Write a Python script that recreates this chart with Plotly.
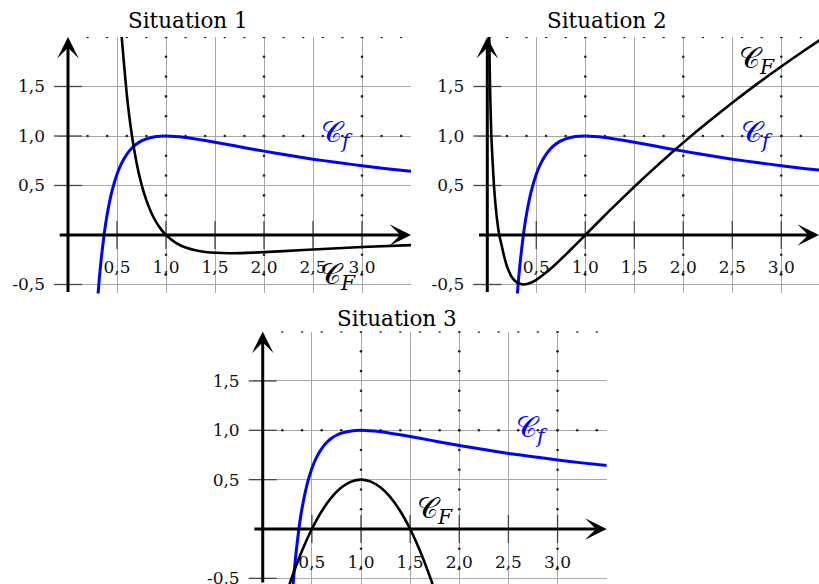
import plotly.graph_objects as go

W, H = 819, 584

# courbe C_f (identique dans les trois situations)
f_x = [0.29, 0.30, 0.32, 0.34, 0.37, 0.40, 0.45, 0.50, 0.55, 0.60, 0.65, 0.70, 0.75, 0.80, 0.90,
       1.00, 1.20, 1.40, 1.60, 1.80, 2.00, 2.25, 2.50, 2.75, 3.00, 3.25, 3.50]
f_y = [-0.821, -0.680, -0.434, -0.233, 0.016, 0.209, 0.447, 0.614, 0.731, 0.815, 0.876, 0.919,
       0.950, 0.971, 0.994, 1.000, 0.985, 0.954, 0.919, 0.882, 0.847, 0.805, 0.766, 0.732, 0.700,
       0.670, 0.644]

# courbe C_F, situation 1
s1_x = [0.52, 0.55, 0.60, 0.65, 0.70, 0.75, 0.80, 0.85, 0.90, 0.95, 1.00, 1.10, 1.20, 1.30,
        1.40, 1.65, 1.90, 2.20, 2.60, 3.00, 3.50]
s1_y = [2.420, 1.976, 1.419, 1.020, 0.728, 0.511, 0.349, 0.225, 0.130, 0.057, 0.000, -0.079,
        -0.127, -0.155, -0.172, -0.184, -0.178, -0.163, -0.141, -0.122, -0.102]

# courbe C_F, situation 2
s2_x = [0.015, 0.028, 0.041, 0.068, 0.10, 0.122, 0.15, 0.173, 0.20, 0.25, 0.30, 0.37, 0.45, 0.50,
        0.60, 0.70, 0.80, 0.90, 1.00, 1.25, 1.50, 1.75, 2.00, 2.25, 2.50, 2.75, 3.00, 3.25, 3.40]
s2_y = [2.30, 1.50, 1.00, 0.50, 0.15, 0.00, -0.12, -0.22, -0.314, -0.425, -0.479, -0.500, -0.480,
        -0.453, -0.380, -0.293, -0.198, -0.100, 0.000, 0.248, 0.487, 0.716, 0.933, 1.140, 1.336,
        1.524, 1.702, 1.874, 1.973]

# courbe C_F, situation 3
s3_x = [0.25, 0.30, 0.40, 0.50, 0.60, 0.70, 0.80, 0.90, 1.00, 1.10, 1.20, 1.30, 1.40, 1.50,
        1.60, 1.70, 1.75]
s3_y = [-0.625, -0.480, -0.220, 0.000, 0.180, 0.320, 0.420, 0.480, 0.500, 0.480, 0.420, 0.320,
        0.180, 0.000, -0.220, -0.480, -0.625]

x_ticks = [0.5, 1.0, 1.5, 2.0, 2.5, 3.0]
x_labels = ["0,5", "1,0", "1,5", "2,0", "2,5", "3,0"]
y_ticks = [-0.5, 0.5, 1.0, 1.5]
y_labels = ["-0,5", "0,5", "1,0", "1,5"]

SERIF = "DejaVu Serif"
GRID = "#a8a8a8"


def px(x):
    return x / W


def py(y):
    return (H - y) / H


# (titre, courbe F, plage x, plage y, domaine x, domaine y, pos. axe y, pos. axe x, titre xy, Cf xy, CF xy)
panels = [
    ("Situation 1", (s1_x, s1_y), [-0.1, 3.5], [-0.59, 2.0], [58.2, 411], [293.4, 37], 68, 234,
     (188, 20), (337, 134), (338, 276)),
    ("Situation 2", (s2_x, s2_y), [-0.1, 3.385], [-0.59, 2.0], [477.5, 819], [293.4, 37], 487.3, 234,
     (607, 20), (757, 134), (757, 60)),
    ("Situation 3", (s3_x, s3_y), [-0.1, 3.5], [-0.557, 2.0], [252.9, 606.7], [584, 331.6], 262.7, 529,
     (397, 318), (532, 429), (435, 510)),
]

fig = go.Figure()
annotations = []
layout = {}

for i, (title, (cx, cy), xr, yr, dx, dy, yax_px, xax_px, tpos, cfpos, cFpos) in enumerate(panels, start=1):
    xa = "x" if i == 1 else f"x{i}"
    ya = "y" if i == 1 else f"y{i}"
    grid_x = x_ticks + [3.5]
    grid_y = y_ticks + [2.0]

    layout[f"xaxis{'' if i == 1 else i}"] = dict(
        domain=[px(dx[0]), px(dx[1])], range=xr, anchor="free", position=py(xax_px),
        tickmode="array", tickvals=grid_x, ticktext=x_labels + [" "], ticks="",
        showgrid=True, gridcolor=GRID, gridwidth=1.2, zeroline=False, showline=False,
        tickfont=dict(family=SERIF, size=17, color="#111"), ticklabelstandoff=21,
        ticklabeloverflow="allow", automargin=False, fixedrange=True,
    )
    layout[f"yaxis{'' if i == 1 else i}"] = dict(
        domain=[py(dy[0]), py(dy[1])], range=yr, anchor="free", position=px(yax_px),
        tickmode="array", tickvals=grid_y, ticktext=y_labels + [" "], ticks="",
        showgrid=True, gridcolor=GRID, gridwidth=1.2, zeroline=False, showline=False,
        tickfont=dict(family=SERIF, size=17, color="#111"), ticklabelstandoff=23,
        ticklabeloverflow="allow", automargin=False, fixedrange=True,
    )

    # petits points sur les lignes entières du quadrillage
    dots_x, dots_y = [], []
    for g in [1, 2, 3]:
        if g <= xr[1]:
            k = 0
            while -0.4 + 0.2 * k <= 2.0 + 1e-9:
                v = round(-0.4 + 0.2 * k, 1)
                if yr[0] <= v <= 2.0:
                    dots_x.append(g)
                    dots_y.append(v)
                k += 1
    for g in [1.0, 2.0]:
        k = 1
        while 0.2 * k <= xr[1] + 1e-9:
            dots_x.append(round(0.2 * k, 1))
            dots_y.append(g)
            k += 1
    fig.add_trace(go.Scatter(x=dots_x, y=dots_y, xaxis=xa, yaxis=ya, mode="markers",
                             marker=dict(size=2.6, color="#222"), hoverinfo="skip"))

    # graduations des axes
    fig.add_trace(go.Scatter(x=x_ticks, y=[0] * len(x_ticks), xaxis=xa, yaxis=ya, mode="markers",
                             marker=dict(symbol="line-ns", size=20, line=dict(width=1.3, color="#444")),
                             hoverinfo="skip"))
    fig.add_trace(go.Scatter(x=[0] * len(y_ticks), y=y_ticks, xaxis=xa, yaxis=ya, mode="markers",
                             marker=dict(symbol="line-ew", size=20, line=dict(width=1.3, color="#444")),
                             hoverinfo="skip", cliponaxis=False))

    # courbes
    fig.add_trace(go.Scatter(x=f_x, y=f_y, xaxis=xa, yaxis=ya, mode="lines",
                             line=dict(color="#0000ff", width=3, shape="spline", smoothing=0.5)))
    fig.add_trace(go.Scatter(x=cx, y=cy, xaxis=xa, yaxis=ya, mode="lines",
                             line=dict(color="black", width=2.6, shape="spline", smoothing=0.5)))

    # axes fléchés
    annotations.append(dict(x=xr[1], y=0, ax=xr[0], ay=0, xref=xa, yref=ya, axref=xa, ayref=ya,
                            text="", showarrow=True, arrowhead=3, arrowsize=1.2, arrowwidth=3,
                            arrowcolor="black"))
    annotations.append(dict(x=0, y=2.0, ax=0, ay=yr[0], xref=xa, yref=ya, axref=xa, ayref=ya,
                            text="", showarrow=True, arrowhead=3, arrowsize=1.2, arrowwidth=3,
                            arrowcolor="black"))

    annotations.append(dict(x=px(tpos[0]), y=py(tpos[1]), xref="paper", yref="paper", text=title,
                            showarrow=False, xanchor="center", yanchor="middle",
                            font=dict(family=SERIF, size=21.5, color="black")))
    annotations.append(dict(x=px(cfpos[0]), y=py(cfpos[1]), xref="paper", yref="paper",
                            text="𝒞<sub><i>f</i></sub>", showarrow=False, xanchor="center",
                            yanchor="middle", font=dict(family=SERIF, size=29, color="#0000ff")))
    annotations.append(dict(x=px(cFpos[0]), y=py(cFpos[1]), xref="paper", yref="paper",
                            text="𝒞<sub><i>F</i></sub>", showarrow=False, xanchor="center",
                            yanchor="middle", font=dict(family=SERIF, size=29, color="black")))

fig.update_layout(
    width=W, height=H,
    margin=dict(l=0, r=0, t=0, b=0, autoexpand=False),
    paper_bgcolor="white", plot_bgcolor="white",
    showlegend=False,
    annotations=annotations,
    **layout,
)

fig.write_html("out.html", config={"displayModeBar": False},
               post_script="document.body.style.margin='0px';")
